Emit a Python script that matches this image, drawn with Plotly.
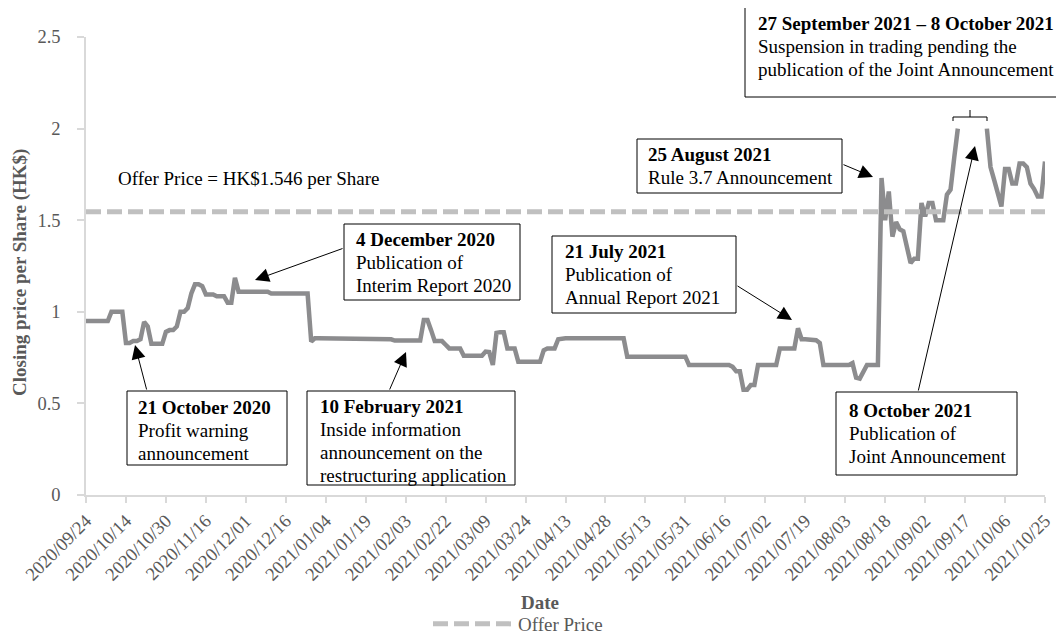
import plotly.graph_objects as go

# ---------------- data ----------------
tick_labels = [
    "2020/09/24", "2020/10/14", "2020/10/30", "2020/11/16", "2020/12/01",
    "2020/12/16", "2021/01/04", "2021/01/19", "2021/02/03", "2021/02/22",
    "2021/03/09", "2021/03/24", "2021/04/13", "2021/04/28", "2021/05/13",
    "2021/05/31", "2021/06/16", "2021/07/02", "2021/07/19", "2021/08/03",
    "2021/08/18", "2021/09/02", "2021/09/17", "2021/10/06", "2021/10/25",
]
TRADING_DAYS_PER_TICK = 11

# closing price per trading day (None = trading suspended)
closing_price = [
    0.95, 0.95, 0.95, 0.95, 0.95, 0.95, 0.95, 1.00, 1.00, 1.00, 1.00,
    0.83, 0.83, 0.84, 0.84, 0.85, 0.945, 0.92, 0.825, 0.825, 0.825, 0.825,
    0.89, 0.90, 0.90, 0.92, 1.00, 1.00, 1.02, 1.10, 1.15, 1.15, 1.14,
    1.095, 1.095, 1.095, 1.085, 1.085, 1.085, 1.05, 1.05, 1.185, 1.11, 1.11,
    1.11, 1.11, 1.11, 1.11, 1.11, 1.11, 1.11, 1.10, 1.10, 1.10, 1.10,
    1.10, 1.10, 1.10, 1.10, 1.10, 1.10, 1.10, 0.838, 0.855, 0.855, 0.855,
    0.855, 0.855, 0.855, 0.855, 0.855, 0.855, 0.855, 0.855, 0.855, 0.855, 0.855,
    0.855, 0.855, 0.855, 0.855, 0.85, 0.85, 0.85, 0.85, 0.843, 0.843, 0.843,
    0.843, 0.843, 0.843, 0.843, 0.843, 0.955, 0.955, 0.90, 0.84, 0.84, 0.84,
    0.82, 0.80, 0.80, 0.80, 0.80, 0.76, 0.76, 0.76, 0.76, 0.76, 0.76,
    0.783, 0.78, 0.71, 0.885, 0.889, 0.889, 0.80, 0.80, 0.80, 0.728, 0.728,
    0.728, 0.728, 0.728, 0.728, 0.728, 0.79, 0.80, 0.80, 0.80, 0.85, 0.855,
    0.855, 0.855, 0.855, 0.855, 0.855, 0.855, 0.855, 0.855, 0.855, 0.855, 0.855,
    0.855, 0.855, 0.855, 0.855, 0.855, 0.855, 0.755, 0.755, 0.755, 0.755, 0.755,
    0.755, 0.755, 0.755, 0.755, 0.755, 0.755, 0.755, 0.755, 0.755, 0.755, 0.755,
    0.755, 0.71, 0.71, 0.71, 0.71, 0.71, 0.71, 0.71, 0.71, 0.71, 0.71,
    0.71, 0.71, 0.70, 0.675, 0.675, 0.575, 0.575, 0.60, 0.60, 0.71, 0.71,
    0.71, 0.71, 0.71, 0.71, 0.80, 0.80, 0.80, 0.80, 0.80, 0.91, 0.85,
    0.85, 0.85, 0.85, 0.845, 0.83, 0.71, 0.71, 0.71, 0.71, 0.71, 0.71,
    0.71, 0.71, 0.72, 0.64, 0.635, 0.67, 0.71, 0.71, 0.71, 0.71, 1.73,
    1.50, 1.657, 1.41, 1.49, 1.45, 1.44, 1.35, 1.266, 1.29, 1.29, 1.594,
    1.52, 1.594, 1.594, 1.50, 1.50, 1.50, 1.64, 1.667, 1.84, 2.00, None,
    None, None, None, None, None, None, 2.00, 1.79, 1.72, 1.65, 1.575,
    1.78, 1.78, 1.70, 1.70, 1.81, 1.81, 1.79, 1.70, 1.67, 1.63, 1.63,
    1.82,
]
offer_price = 1.546

day_index = list(range(len(closing_price)))
tick_positions = day_index[::TRADING_DAYS_PER_TICK]

# ---------------- layout helpers ----------------
W, H = 1064, 637
# plot-area frame as seen in the reference picture
RL, RR, RT, RB = 86, 1045, 37, 495
PAGE_OFFSET = 8  # the page draws the figure 8px in from its top-left corner


def px(x):
    return (x - RL) / (RR - RL)


def py(y):
    return (RB - y) / (RB - RT)


FONT = "Liberation Serif, Times New Roman, serif"
FS = 19
TFS = 18.5
LINE_GAP = 23

fig = go.Figure()
fig.add_trace(go.Scatter(
    x=day_index, y=closing_price, mode="lines",
    line=dict(color="#8c8c8e", width=4.5),
    connectgaps=False, showlegend=False, name="Closing price",
))
fig.add_trace(go.Scatter(
    x=[day_index[0], day_index[-1]], y=[offer_price, offer_price], mode="lines",
    line=dict(color="#c0c0c0", width=5, dash="15px,6px"),
    name="Offer Price", showlegend=True,
))

annotations = []
shapes = []

# boxed call-outs: (left, top, right, bottom, first-line-center, text-left, lines)
boxes = [
    (127, 391, 287, 465, 407, 137, ["<b>21 October 2020</b>", "Profit warning", "announcement"]),
    (344, 224, 520, 300, 239, 355, ["<b>4 December 2020</b>", "Publication of", "Interim Report 2020"]),
    (307, 391, 515, 485, 406, 319, ["<b>10 February 2021</b>", "Inside information",
                                    "announcement on the", "restructuring application"]),
    (552, 236, 736, 313, 251, 564, ["<b>21 July 2021</b>", "Publication of", "Annual Report 2021"]),
    (637, 139, 842, 193, 154, 647, ["<b>25 August 2021</b>", "Rule 3.7 Announcement"]),
    (745, 2, 1061, 97, 23, 757, ["<b>27 September 2021 – 8 October 2021</b>",
                                 "Suspension in trading pending the",
                                 "publication of the Joint Announcement"]),
    (836, 392, 1017, 475, 410, 848, ["<b>8 October 2021</b>", "Publication of", "Joint Announcement"]),
]
for l, t, r, b, c1, tl, lines in boxes:
    shapes.append(dict(type="rect", xref="paper", yref="paper",
                       x0=px(l), x1=px(r), y0=py(b), y1=py(t),
                       line=dict(color="black", width=1), fillcolor="white", layer="above"))
    for k, line_text in enumerate(lines):
        annotations.append(dict(xref="paper", yref="paper", x=px(tl), y=py(c1 + k * LINE_GAP),
                                xanchor="left", yanchor="middle", align="left",
                                text=line_text, showarrow=False,
                                font=dict(family=FONT, size=FS, color="black"), borderpad=0))

# arrows: (head_x, head_y, tail_x, tail_y)
arrows = [
    (135, 345, 147, 391),
    (255, 280, 344, 248),
    (406, 352, 389, 391),
    (792, 320, 736, 285),
    (873, 177, 842, 164),
    (975, 146, 918, 392),
]
for hx, hy, tx, ty in arrows:
    annotations.append(dict(xref="paper", yref="paper", x=px(hx), y=py(hy),
                            ax=tx - hx, ay=ty - hy, axref="pixel", ayref="pixel",
                            text="", showarrow=True, arrowhead=2, arrowsize=2.8,
                            arrowwidth=1, arrowcolor="black", standoff=0))

# bracket over suspension period
for x0, y0, x1, y1 in [(953, 117, 987, 117), (953, 117, 953, 121),
                       (987, 117, 987, 121), (970, 117, 970, 110)]:
    shapes.append(dict(type="line", xref="paper", yref="paper",
                       x0=px(x0), y0=py(y0), x1=px(x1), y1=py(y1),
                       line=dict(color="black", width=1)))

# free text and axis titles
annotations.append(dict(xref="paper", yref="paper", x=px(116), y=py(178),
                        xanchor="left", yanchor="middle", showarrow=False,
                        text="Offer Price = HK$1.546 per Share",
                        font=dict(family=FONT, size=FS, color="black")))
annotations.append(dict(xref="paper", yref="paper", x=px(20), y=py(273),
                        xanchor="center", yanchor="middle", showarrow=False, textangle=-90,
                        text="<b>Closing price per Share (HK$)</b>",
                        font=dict(family=FONT, size=FS, color="#595959")))
annotations.append(dict(xref="paper", yref="paper", x=px(540), y=py(602),
                        xanchor="center", yanchor="middle", showarrow=False,
                        text="<b>Date</b>",
                        font=dict(family=FONT, size=FS, color="#595959")))

fig.update_layout(
    width=W, height=H,
    margin=dict(l=RL - PAGE_OFFSET, r=W - RR + PAGE_OFFSET,
                t=RT - PAGE_OFFSET, b=H - RB + PAGE_OFFSET, pad=0, autoexpand=False),
    paper_bgcolor="white", plot_bgcolor="white",
    font=dict(family=FONT, size=FS, color="#595959"),
    annotations=annotations, shapes=shapes,
    legend=dict(orientation="h", x=px(428), y=py(624), xanchor="left", yanchor="middle",
                font=dict(family=FONT, size=FS, color="#595959"), itemwidth=80,
                bgcolor="rgba(0,0,0,0)"),
    xaxis=dict(range=[day_index[0], day_index[-1]], tickmode="array",
               tickvals=tick_positions, ticktext=tick_labels, tickangle=-45,
               showline=True, linecolor="#d9d9d9", linewidth=1.5,
               ticks="outside", ticklen=6, tickcolor="#d9d9d9", tickwidth=1.5,
               showgrid=False, zeroline=False, automargin=False,
               ticklabeloverflow="allow",
               tickfont=dict(family=FONT, size=TFS, color="#595959")),
    yaxis=dict(range=[0, 2.5], dtick=0.5, tick0=0,
               showline=True, linecolor="#d9d9d9", linewidth=1.5,
               ticks="outside", ticklen=7, tickcolor="#d9d9d9", tickwidth=1.5,
               showgrid=False, zeroline=False, ticklabelstandoff=13, automargin=False,
               tickfont=dict(family=FONT, size=TFS, color="#595959")),
)

fig.write_html("out.html")
